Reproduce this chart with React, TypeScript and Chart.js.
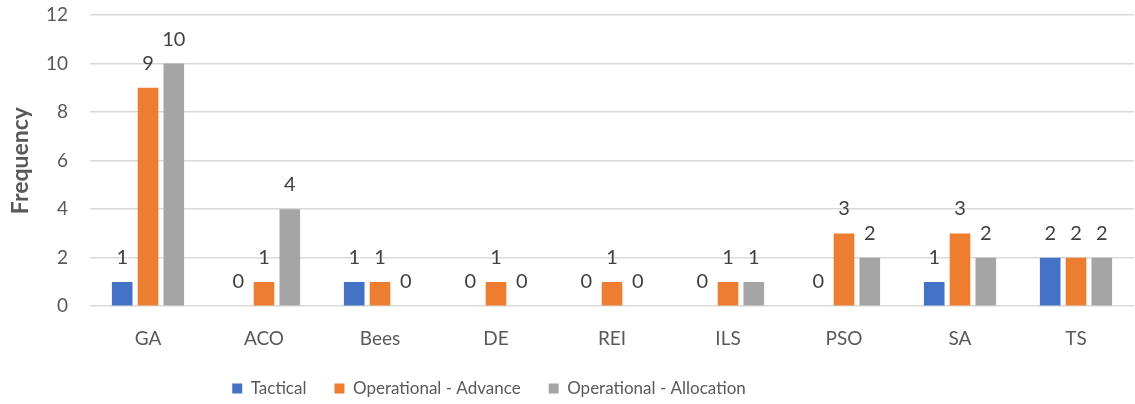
import React, { useEffect, useRef } from "react";
import { Chart, registerables } from "chart.js";

Chart.register(...registerables);

const categories = ["GA", "ACO", "Bees", "DE", "REI", "ILS", "PSO", "SA", "TS"];
const tactical = [1, 0, 1, 0, 0, 0, 0, 1, 2];
const operationalAdvance = [9, 1, 1, 1, 1, 1, 3, 3, 2];
const operationalAllocation = [10, 4, 0, 0, 0, 1, 2, 2, 2];
const yTicks = [0, 2, 4, 6, 8, 10, 12];

const FONT = "Lato, 'Open Sans', sans-serif";

const valueLabels = {
  id: "valueLabels",
  afterDatasetsDraw(chart: any) {
    const ctx = chart.ctx;
    ctx.save();
    ctx.font = `20px ${FONT}`;
    ctx.fillStyle = "#404040";
    ctx.textAlign = "center";
    ctx.textBaseline = "alphabetic";
    chart.data.datasets.forEach((ds: any, i: number) => {
      const meta = chart.getDatasetMeta(i);
      meta.data.forEach((el: any, j: number) => {
        ctx.fillText(String(ds.data[j]), el.x, el.y - 18);
      });
    });
    ctx.restore();
  },
};

// The legend in the reference sits left of the canvas centre.
const legendShift = {
  id: "legendShift",
  afterLayout(chart: any) {
    const lg = chart.legend;
    if (lg) {
      lg.left -= 78;
      lg.right -= 78;
    }
  },
};

export default function App() {
  const ref = useRef<HTMLCanvasElement | null>(null);
  useEffect(() => {
    document.body.style.margin = "0";
    const chart = new Chart(ref.current!, {
      type: "bar",
      data: {
        labels: categories,
        datasets: [
          { label: "Tactical", data: tactical, backgroundColor: "#4472C4" },
          { label: "Operational - Advance", data: operationalAdvance, backgroundColor: "#ED7D31" },
          { label: "Operational - Allocation", data: operationalAllocation, backgroundColor: "#A5A5A5" },
        ],
      },
      options: {
        animation: false,
        responsive: false,
        maintainAspectRatio: false,
        datasets: { bar: { categoryPercentage: 0.667, barPercentage: 0.8 } },
        layout: { padding: { top: 15, right: 1, left: 0, bottom: -3 } },
        plugins: {
          legend: {
            position: "bottom",
            labels: {
              boxWidth: 10,
              boxHeight: 10,
              padding: 28,
              color: "#595959",
              font: { family: FONT, size: 17 },
            },
          },
          tooltip: { enabled: false },
        },
        scales: {
          x: {
            afterFit(scale: any) {
              scale.height = scale.height - 19;
            },
            grid: { display: false, drawTicks: false },
            border: { display: false },
            ticks: { color: "#595959", font: { family: FONT, size: 19 }, padding: 21 },
          },
          y: {
            min: 0,
            max: 12,
            afterFit(scale: any) {
              scale.width = 90;
              scale.paddingTop = 0;
              scale.paddingBottom = 0;
            },
            afterBuildTicks(scale: any) {
              scale.ticks = yTicks.map((v) => ({ value: v }));
            },
            grid: { color: "#d9d9d9", lineWidth: 1.5, drawTicks: false },
            border: { display: false },
            ticks: { color: "#595959", font: { family: FONT, size: 19 }, padding: 22 },
            title: {
              display: true,
              text: "Frequency",
              color: "#595959",
              font: { family: FONT, size: 23, weight: "bold" },
              padding: { top: 7, bottom: 0 },
            },
          },
        },
      },
      plugins: [valueLabels, legendShift],
    });
    return () => chart.destroy();
  }, []);
  return (
    <div style={{ width: 1135, height: 404 }}>
      <canvas ref={ref} width={1135} height={404} />
    </div>
  );
}
